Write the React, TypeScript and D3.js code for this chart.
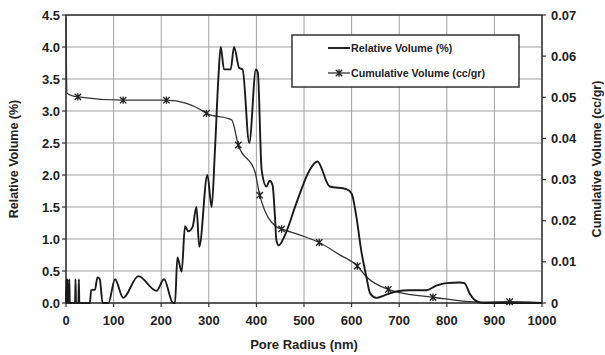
import React from "react";
import * as d3 from "d3";

const relX = [0, 1, 2, 3, 4, 6, 7, 8, 19, 20, 21, 26, 27, 28, 50, 53, 61, 66, 71, 77, 89, 103, 120, 152, 190, 206, 225, 229, 234, 243, 250, 257, 266, 274, 280, 297, 306, 313, 320, 325, 332, 346, 353, 364, 371, 385, 399, 403, 411, 421, 428, 434, 439, 442, 447, 460, 484, 512, 528, 554, 589, 600, 610, 620, 631, 639, 652, 669, 694, 722, 757, 778, 799, 827, 837, 848, 858, 869, 880, 1000];
const relY = [0, 0.37, 0, 0.37, 0, 0, 0.37, 0, 0, 0.37, 0, 0, 0.37, 0, 0, 0.2, 0.21, 0.4, 0.37, 0, 0, 0.37, 0.08, 0.42, 0.19, 0.37, 0, 0, 0.71, 0.49, 1.2, 1.12, 1.19, 1.5, 0.88, 2.0, 1.5, 2.4, 3.5, 4.0, 3.65, 3.65, 4.0, 3.67, 3.65, 2.5, 3.65, 3.6, 2.08, 1.82, 1.91, 1.84, 1.35, 0.98, 0.9, 1.06, 1.56, 2.08, 2.21, 1.82, 1.78, 1.71, 1.35, 0.83, 0.41, 0.15, 0.08, 0.12, 0.18, 0.2, 0.2, 0.27, 0.31, 0.32, 0.31, 0.15, 0.05, 0.01, 0, 0];

const cumX = [0, 2, 10, 25, 120, 211, 253, 281, 295, 348, 362, 397, 407, 442, 453, 492, 532, 575, 612, 631, 677, 701, 764, 771, 869, 932, 1000];
const cumY = [0.0695, 0.051, 0.0505, 0.0501, 0.0493, 0.0493, 0.0485, 0.0471, 0.0461, 0.0445, 0.0384, 0.0319, 0.0262, 0.0185, 0.018, 0.0165, 0.0147, 0.0117, 0.009, 0.0064, 0.0033, 0.0025, 0.0015, 0.0014, 0.0002, 0.0003, 0.0001];
const cumMarkerX = [25, 120, 211, 295, 362, 407, 453, 532, 612, 677, 771, 932];

const xTicks = [0, 100, 200, 300, 400, 500, 600, 700, 800, 900, 1000];
const yLeftTicks = [0, 0.5, 1.0, 1.5, 2.0, 2.5, 3.0, 3.5, 4.0, 4.5];
const yRightTicks = [0, 0.01, 0.02, 0.03, 0.04, 0.05, 0.06, 0.07];

const legendLabels = ["Relative Volume (%)", "Cumulative Volume (cc/gr)"];

const W = 605, H = 355;
const L = 66, R = 542, T = 15, B = 303;
const FONT = "'Liberation Sans', Arial, sans-serif";

function Star({ x, y }: { x: number; y: number }) {
  const s = 3.2;
  return (
    <path
      d={`M${x - s},${y - s}L${x + s},${y + s}M${x - s},${y + s}L${x + s},${y - s}M${x},${y - s - 0.5}L${x},${y + s + 0.5}`}
      stroke="#222"
      strokeWidth={1.3}
      fill="none"
    />
  );
}

export default function App() {
  const x = d3.scaleLinear().domain([0, 1000]).range([L, R]);
  const yL = d3.scaleLinear().domain([0, 4.5]).range([B, T]);
  const yR = d3.scaleLinear().domain([0, 0.07]).range([B, T]);

  const relPts = relX.map((v, i) => [v, relY[i]] as [number, number]);
  const cumPts = cumX.map((v, i) => [v, cumY[i]] as [number, number]);
  const relLine = d3.line<[number, number]>().x(d => x(d[0])).y(d => yL(d[1])).curve(d3.curveMonotoneX);
  const cumLine = d3.line<[number, number]>().x(d => x(d[0])).y(d => yR(d[1])).curve(d3.curveMonotoneX);
  const cumAt = (v: number) => cumY[cumX.indexOf(v)];

  const lx = 292, ly = 35, lw = 227, lh = 52;
  const fs = 13;

  return (
    <svg width={W} height={H} style={{ position: "absolute", left: 0, top: 0, background: "#fff" }} fontFamily={FONT}>
      <rect x={0} y={0} width={W} height={H} fill="#fff" />
      {xTicks.map(t => (
        <line key={"gx" + t} x1={x(t)} x2={x(t)} y1={T} y2={B} stroke="#a0a0a0" strokeWidth={1} />
      ))}
      {yLeftTicks.map(t => (
        <line key={"gy" + t} x1={L} x2={R} y1={yL(t)} y2={yL(t)} stroke="#a0a0a0" strokeWidth={1} />
      ))}
      <rect x={L} y={T} width={R - L} height={B - T} fill="none" stroke="#333" strokeWidth={1.5} />
      {xTicks.map(t => (
        <line key={"tx" + t} x1={x(t)} x2={x(t)} y1={B} y2={B + 4} stroke="#333" strokeWidth={1.2} />
      ))}
      {yLeftTicks.map(t => (
        <line key={"tl" + t} x1={L - 4} x2={L} y1={yL(t)} y2={yL(t)} stroke="#333" strokeWidth={1.2} />
      ))}
      {yRightTicks.map(t => (
        <line key={"tr" + t} x1={R} x2={R + 4} y1={yR(t)} y2={yR(t)} stroke="#333" strokeWidth={1.2} />
      ))}
      {xTicks.map(t => (
        <text key={"lx" + t} x={x(t)} y={B + 22} textAnchor="middle" fontSize={fs} fontWeight="bold" fill="#222">
          {t}
        </text>
      ))}
      {yLeftTicks.map(t => (
        <text key={"ll" + t} x={L - 6} y={yL(t) + 4.5} textAnchor="end" fontSize={fs} fontWeight="bold" fill="#222">
          {t.toFixed(1)}
        </text>
      ))}
      {yRightTicks.map(t => (
        <text key={"lr" + t} x={R + 9} y={yR(t) + 4.5} textAnchor="start" fontSize={fs} fontWeight="bold" fill="#222">
          {t === 0 ? "0" : t.toFixed(2)}
        </text>
      ))}
      <text x={(L + R) / 2} y={349} textAnchor="middle" fontSize={fs} fontWeight="bold" fill="#222">
        Pore Radius (nm)
      </text>
      <text transform={`translate(18,${(T + B) / 2}) rotate(-90)`} textAnchor="middle" fontSize={12.5} fontWeight="bold" fill="#222">
        Relative Volume (%)
      </text>
      <text transform={`translate(601,${(T + B) / 2}) rotate(-90)`} textAnchor="middle" fontSize={12.5} fontWeight="bold" fill="#222">
        Cumulative Volume (cc/gr)
      </text>
      <path d={cumLine(cumPts) || ""} fill="none" stroke="#333" strokeWidth={1.3} />
      {cumMarkerX.map(v => (
        <Star key={"m" + v} x={x(v)} y={yR(cumAt(v))} />
      ))}
      <path d={relLine(relPts) || ""} fill="none" stroke="#1a1a1a" strokeWidth={1.9} strokeLinejoin="round" />
      <rect x={lx} y={ly} width={lw} height={lh} fill="#fff" stroke="#333" strokeWidth={1.5} />
      <line x1={328} x2={350} y1={48} y2={48} stroke="#1a1a1a" strokeWidth={1.9} />
      <text x={351} y={52} fontSize={10.7} fontWeight="bold" fill="#222">{legendLabels[0]}</text>
      <line x1={328} x2={350} y1={73} y2={73} stroke="#333" strokeWidth={1.3} />
      <Star x={339} y={73} />
      <text x={351} y={77} fontSize={10.7} fontWeight="bold" fill="#222">{legendLabels[1]}</text>
    </svg>
  );
}
